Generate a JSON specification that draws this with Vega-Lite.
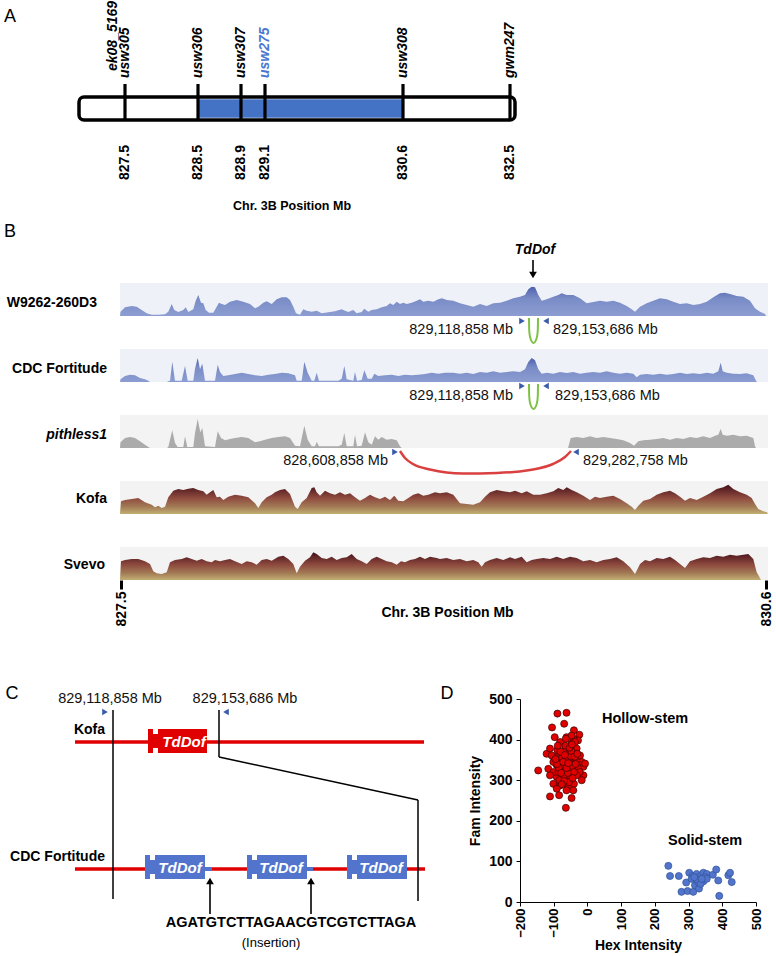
{
"$schema":"https://vega.github.io/schema/vega-lite/v6.json",
"background":"white",
"padding":0,
"config":{"view":{"stroke":null},"font":"Liberation Sans"},
"bounds":"flush",
"spacing":33,
"datasets":{
"loci":[
{"locus":"usw305","mapX":125,"mb":"827.5"},
{"locus":"usw306","mapX":198,"mb":"828.5"},
{"locus":"usw307","mapX":241,"mb":"828.9"},
{"locus":"usw275","mapX":265,"mb":"829.1"},
{"locus":"usw308","mapX":403,"mb":"830.6"},
{"locus":"gwm247","mapX":510,"mb":"832.5"}
],
"primerU":[
{"t":1,"o":1,"p":409,"d":-2},{"t":1,"o":2,"p":409.2,"d":-14},{"t":1,"o":3,"p":410.3,"d":-22},{"t":1,"o":4,"p":413.5,"d":-27},{"t":1,"o":5,"p":416.7,"d":-22},{"t":1,"o":6,"p":417.8,"d":-14},{"t":1,"o":7,"p":418,"d":-2},
{"t":2,"o":1,"p":409,"d":-2},{"t":2,"o":2,"p":409.2,"d":-14},{"t":2,"o":3,"p":410.3,"d":-22},{"t":2,"o":4,"p":413.5,"d":-27},{"t":2,"o":5,"p":416.7,"d":-22},{"t":2,"o":6,"p":417.8,"d":-14},{"t":2,"o":7,"p":418,"d":-2}
],
"deletionArc":[
{"o":1,"p":280,"d":-3},{"o":2,"p":285,"d":-10},{"o":3,"p":293,"d":-16},{"o":4,"p":310,"d":-21.5},{"o":5,"p":343,"d":-25.5},{"o":6,"p":377,"d":-25},{"o":7,"p":410,"d":-22},{"o":8,"p":433,"d":-16},{"o":9,"p":445,"d":-9},{"o":10,"p":451,"d":-3}
],
"coverage":[
{"t":1,"p":0,"d":0},{"t":1,"p":0.5,"d":4.3},{"t":1,"p":5,"d":8.7},{"t":1,"p":11.7,"d":10},{"t":1,"p":16.7,"d":9.3},{"t":1,"p":21.7,"d":6},{"t":1,"p":26.7,"d":2.7},{"t":1,"p":31.7,"d":1.3},{"t":1,"p":38.3,"d":1.3},{"t":1,"p":45,"d":1.7},{"t":1,"p":48.3,"d":4.3},{"t":1,"p":51.7,"d":12},{"t":1,"p":54.3,"d":6},{"t":1,"p":58.3,"d":4},{"t":1,"p":63.3,"d":6},{"t":1,"p":65.7,"d":8.7},{"t":1,"p":68.3,"d":4},{"t":1,"p":73.3,"d":6.7},{"t":1,"p":75.7,"d":15.3},{"t":1,"p":78.3,"d":21},{"t":1,"p":81,"d":13.3},{"t":1,"p":83.3,"d":12.7},{"t":1,"p":85.7,"d":6},{"t":1,"p":89,"d":3.3},{"t":1,"p":93.3,"d":3.3},{"t":1,"p":96.7,"d":9.3},{"t":1,"p":99,"d":13.3},{"t":1,"p":101.7,"d":12},{"t":1,"p":105,"d":11},{"t":1,"p":110,"d":14.3},{"t":1,"p":116.7,"d":16},{"t":1,"p":123.3,"d":14.3},{"t":1,"p":130,"d":12},{"t":1,"p":135,"d":7.7},{"t":1,"p":138.3,"d":9.3},{"t":1,"p":143.3,"d":13.3},{"t":1,"p":146.7,"d":14.7},{"t":1,"p":151.7,"d":12},{"t":1,"p":156.7,"d":16.7},{"t":1,"p":161.7,"d":18.7},{"t":1,"p":166.7,"d":18.7},{"t":1,"p":170,"d":16},{"t":1,"p":173.3,"d":9.3},{"t":1,"p":176,"d":2.7},{"t":1,"p":180,"d":1.3},{"t":1,"p":183.3,"d":6.7},{"t":1,"p":186.7,"d":5.3},{"t":1,"p":191.7,"d":4.3},{"t":1,"p":196.7,"d":5.3},{"t":1,"p":201.7,"d":2.7},{"t":1,"p":208.3,"d":3.7},{"t":1,"p":215,"d":4.7},{"t":1,"p":221.7,"d":6.7},{"t":1,"p":225,"d":5.3},{"t":1,"p":228.3,"d":4},{"t":1,"p":233.3,"d":6},{"t":1,"p":236.7,"d":2.7},{"t":1,"p":241.7,"d":4},{"t":1,"p":244.3,"d":7.3},{"t":1,"p":248.3,"d":4.3},{"t":1,"p":251.7,"d":6},{"t":1,"p":256.7,"d":6.7},{"t":1,"p":261.7,"d":8.7},{"t":1,"p":266.7,"d":10},{"t":1,"p":270,"d":12.7},{"t":1,"p":273.3,"d":11},{"t":1,"p":276.7,"d":14.3},{"t":1,"p":280,"d":12},{"t":1,"p":283.3,"d":13.3},{"t":1,"p":286.7,"d":12},{"t":1,"p":291.7,"d":13.3},{"t":1,"p":296.7,"d":15.3},{"t":1,"p":300,"d":16.7},{"t":1,"p":303.3,"d":14.3},{"t":1,"p":308.3,"d":15.3},{"t":1,"p":313.3,"d":14.3},{"t":1,"p":318.3,"d":16.7},{"t":1,"p":322,"d":17.7},{"t":1,"p":326.7,"d":16},{"t":1,"p":333.3,"d":15.3},{"t":1,"p":340,"d":12.7},{"t":1,"p":346.7,"d":11},{"t":1,"p":353.3,"d":9.3},{"t":1,"p":360,"d":12},{"t":1,"p":366.7,"d":10},{"t":1,"p":373.3,"d":12.7},{"t":1,"p":380,"d":13.3},{"t":1,"p":386.7,"d":15.3},{"t":1,"p":393.3,"d":17.7},{"t":1,"p":400,"d":19.3},{"t":1,"p":405,"d":21},{"t":1,"p":408.3,"d":26.7},{"t":1,"p":411.7,"d":29.3},{"t":1,"p":415,"d":28.7},{"t":1,"p":418.3,"d":21},{"t":1,"p":421.7,"d":15.3},{"t":1,"p":426.7,"d":16.7},{"t":1,"p":433.3,"d":19.3},{"t":1,"p":438.3,"d":21},{"t":1,"p":441.7,"d":22.7},{"t":1,"p":446.7,"d":21},{"t":1,"p":453.3,"d":21},{"t":1,"p":460,"d":17.7},{"t":1,"p":466.7,"d":12.7},{"t":1,"p":473.3,"d":14},{"t":1,"p":480,"d":15.3},{"t":1,"p":486.7,"d":14.3},{"t":1,"p":493.3,"d":15.3},{"t":1,"p":500,"d":13.3},{"t":1,"p":506.7,"d":10},{"t":1,"p":511.7,"d":6.7},{"t":1,"p":515,"d":4.3},{"t":1,"p":520,"d":9.3},{"t":1,"p":526.7,"d":12.7},{"t":1,"p":533.3,"d":15.3},{"t":1,"p":540,"d":17.7},{"t":1,"p":546.7,"d":16.7},{"t":1,"p":553.3,"d":14.3},{"t":1,"p":560,"d":12},{"t":1,"p":566.7,"d":12.7},{"t":1,"p":573.3,"d":11},{"t":1,"p":580,"d":12},{"t":1,"p":586.7,"d":14.3},{"t":1,"p":593.3,"d":18.7},{"t":1,"p":600,"d":22.7},{"t":1,"p":605,"d":23.3},{"t":1,"p":610,"d":22},{"t":1,"p":616.7,"d":20},{"t":1,"p":623.3,"d":19.3},{"t":1,"p":630,"d":15.3},{"t":1,"p":635,"d":7.7},{"t":1,"p":640,"d":4.3},{"t":1,"p":645,"d":2},{"t":1,"p":646,"d":0},
{"t":2,"p":0,"d":0},{"t":2,"p":0.5,"d":2.7},{"t":2,"p":5,"d":6},{"t":2,"p":10,"d":7.3},{"t":2,"p":15,"d":6.7},{"t":2,"p":20,"d":4},{"t":2,"p":25,"d":2.7},{"t":2,"p":28.3,"d":1.3},{"t":2,"p":30,"d":0},{"t":2,"p":47,"d":0},{"t":2,"p":48.3,"d":0.7},{"t":2,"p":50,"d":1.3},{"t":2,"p":52.3,"d":20},{"t":2,"p":55,"d":1.3},{"t":2,"p":61.7,"d":1.3},{"t":2,"p":65,"d":16},{"t":2,"p":67.7,"d":1.3},{"t":2,"p":73.3,"d":1.3},{"t":2,"p":75,"d":13.3},{"t":2,"p":77.7,"d":24},{"t":2,"p":80,"d":12.7},{"t":2,"p":82.3,"d":18.3},{"t":2,"p":85,"d":1.3},{"t":2,"p":95,"d":1.3},{"t":2,"p":97.7,"d":17.3},{"t":2,"p":100,"d":10},{"t":2,"p":103.3,"d":6},{"t":2,"p":108.3,"d":6.7},{"t":2,"p":115,"d":8},{"t":2,"p":121.7,"d":9.3},{"t":2,"p":128.3,"d":8},{"t":2,"p":135,"d":6.7},{"t":2,"p":141.7,"d":6},{"t":2,"p":148.3,"d":7.3},{"t":2,"p":155,"d":8},{"t":2,"p":161.7,"d":9.3},{"t":2,"p":168.3,"d":8.7},{"t":2,"p":175,"d":6.7},{"t":2,"p":176.7,"d":1.3},{"t":2,"p":181.7,"d":1.3},{"t":2,"p":184.3,"d":20},{"t":2,"p":187.7,"d":9.3},{"t":2,"p":191.7,"d":1.3},{"t":2,"p":194.3,"d":1.3},{"t":2,"p":196.7,"d":9.3},{"t":2,"p":199,"d":1.3},{"t":2,"p":218.3,"d":1.3},{"t":2,"p":221.7,"d":3.3},{"t":2,"p":224.3,"d":16},{"t":2,"p":226.7,"d":2.7},{"t":2,"p":233.3,"d":1.3},{"t":2,"p":235,"d":10},{"t":2,"p":237,"d":1.3},{"t":2,"p":241.7,"d":2},{"t":2,"p":244.3,"d":11.7},{"t":2,"p":247.7,"d":3.3},{"t":2,"p":251.7,"d":3.3},{"t":2,"p":254.3,"d":8.3},{"t":2,"p":258.3,"d":6},{"t":2,"p":265,"d":6.7},{"t":2,"p":271.7,"d":7.3},{"t":2,"p":278.3,"d":6},{"t":2,"p":285,"d":7.3},{"t":2,"p":291.7,"d":6.7},{"t":2,"p":298.3,"d":7.3},{"t":2,"p":305,"d":8},{"t":2,"p":311.7,"d":9.3},{"t":2,"p":318.3,"d":8.3},{"t":2,"p":325,"d":9.3},{"t":2,"p":333.3,"d":9.3},{"t":2,"p":340,"d":8.3},{"t":2,"p":346.7,"d":9.3},{"t":2,"p":353.3,"d":8},{"t":2,"p":360,"d":10},{"t":2,"p":366.7,"d":9.3},{"t":2,"p":373.3,"d":10.7},{"t":2,"p":380,"d":9.3},{"t":2,"p":386.7,"d":10},{"t":2,"p":393.3,"d":10.7},{"t":2,"p":400,"d":10},{"t":2,"p":405,"d":12.7},{"t":2,"p":408.3,"d":20},{"t":2,"p":411.7,"d":24},{"t":2,"p":415,"d":21.7},{"t":2,"p":418.3,"d":12.7},{"t":2,"p":421.7,"d":8.3},{"t":2,"p":426.7,"d":9.3},{"t":2,"p":433.3,"d":8.3},{"t":2,"p":440,"d":10},{"t":2,"p":446.7,"d":9},{"t":2,"p":453.3,"d":10},{"t":2,"p":460,"d":8.3},{"t":2,"p":466.7,"d":9.3},{"t":2,"p":473.3,"d":10},{"t":2,"p":480,"d":9.3},{"t":2,"p":486.7,"d":10.7},{"t":2,"p":493.3,"d":9.3},{"t":2,"p":500,"d":8.3},{"t":2,"p":506.7,"d":9.3},{"t":2,"p":513.3,"d":8.3},{"t":2,"p":516.7,"d":4.7},{"t":2,"p":520,"d":7.3},{"t":2,"p":526.7,"d":8},{"t":2,"p":533.3,"d":7.3},{"t":2,"p":540,"d":8.3},{"t":2,"p":546.7,"d":7.3},{"t":2,"p":553.3,"d":8},{"t":2,"p":560,"d":9.3},{"t":2,"p":566.7,"d":8},{"t":2,"p":573.3,"d":8.7},{"t":2,"p":580,"d":8},{"t":2,"p":586.7,"d":9.3},{"t":2,"p":593.3,"d":8.3},{"t":2,"p":598.3,"d":10.7},{"t":2,"p":600.7,"d":19.3},{"t":2,"p":602.7,"d":10.7},{"t":2,"p":606.7,"d":9.3},{"t":2,"p":613.3,"d":8.3},{"t":2,"p":620,"d":8},{"t":2,"p":626.7,"d":8.7},{"t":2,"p":633.3,"d":6.7},{"t":2,"p":636,"d":1.3},{"t":2,"p":637,"d":0},
{"t":3,"p":0,"d":0},{"t":3,"p":0.5,"d":5.7},{"t":3,"p":5,"d":10},{"t":3,"p":10,"d":11},{"t":3,"p":15,"d":10},{"t":3,"p":20,"d":6.7},{"t":3,"p":25,"d":3.3},{"t":3,"p":28.3,"d":1},{"t":3,"p":30,"d":0},{"t":3,"p":47,"d":0},{"t":3,"p":48.3,"d":1},{"t":3,"p":50,"d":8.3},{"t":3,"p":52.3,"d":17.7},{"t":3,"p":55,"d":5},{"t":3,"p":57.7,"d":1},{"t":3,"p":63.3,"d":1},{"t":3,"p":65,"d":11.7},{"t":3,"p":67.3,"d":1},{"t":3,"p":73.3,"d":1},{"t":3,"p":75,"d":15},{"t":3,"p":77.7,"d":29},{"t":3,"p":80.3,"d":15.7},{"t":3,"p":82.3,"d":20},{"t":3,"p":85,"d":1.7},{"t":3,"p":95,"d":1},{"t":3,"p":97.7,"d":16.7},{"t":3,"p":101,"d":10},{"t":3,"p":105,"d":7.7},{"t":3,"p":110,"d":9},{"t":3,"p":115,"d":10},{"t":3,"p":121.7,"d":11},{"t":3,"p":128.3,"d":10},{"t":3,"p":135,"d":5.7},{"t":3,"p":140,"d":6.7},{"t":3,"p":145,"d":8.3},{"t":3,"p":151.7,"d":10},{"t":3,"p":158.3,"d":11},{"t":3,"p":165,"d":11.7},{"t":3,"p":170,"d":10},{"t":3,"p":175,"d":2.3},{"t":3,"p":180,"d":1.7},{"t":3,"p":184.3,"d":22.3},{"t":3,"p":187.7,"d":8.3},{"t":3,"p":191.7,"d":1.7},{"t":3,"p":195,"d":1.7},{"t":3,"p":196.7,"d":6.3},{"t":3,"p":199,"d":1.7},{"t":3,"p":218.3,"d":1.7},{"t":3,"p":221.7,"d":3.3},{"t":3,"p":224.3,"d":15},{"t":3,"p":226.7,"d":1.7},{"t":3,"p":233.3,"d":1.7},{"t":3,"p":235,"d":13.3},{"t":3,"p":237,"d":1.7},{"t":3,"p":241.7,"d":2.3},{"t":3,"p":245,"d":15.7},{"t":3,"p":248.3,"d":5.7},{"t":3,"p":251.7,"d":3.3},{"t":3,"p":255,"d":11.7},{"t":3,"p":258.3,"d":8.3},{"t":3,"p":261.7,"d":11},{"t":3,"p":266.7,"d":8.3},{"t":3,"p":271.7,"d":9},{"t":3,"p":276.7,"d":7.7},{"t":3,"p":280,"d":1.7},{"t":3,"p":281.7,"d":0},{"t":3,"p":448,"d":0},{"t":3,"p":448.3,"d":1},{"t":3,"p":450.7,"d":10},{"t":3,"p":456.7,"d":11},{"t":3,"p":463.3,"d":10},{"t":3,"p":470,"d":11.7},{"t":3,"p":476.7,"d":10},{"t":3,"p":483.3,"d":11},{"t":3,"p":490,"d":10},{"t":3,"p":496.7,"d":9},{"t":3,"p":503.3,"d":7.7},{"t":3,"p":510,"d":5},{"t":3,"p":514,"d":2.3},{"t":3,"p":518.3,"d":6.7},{"t":3,"p":523.3,"d":7.7},{"t":3,"p":530,"d":8.3},{"t":3,"p":536.7,"d":9},{"t":3,"p":543.3,"d":10},{"t":3,"p":550,"d":8.3},{"t":3,"p":556.7,"d":10},{"t":3,"p":563.3,"d":9},{"t":3,"p":570,"d":11},{"t":3,"p":576.7,"d":10},{"t":3,"p":583.3,"d":11.7},{"t":3,"p":590,"d":10},{"t":3,"p":595,"d":12.3},{"t":3,"p":598.3,"d":13.3},{"t":3,"p":600.7,"d":19},{"t":3,"p":602.7,"d":13.3},{"t":3,"p":606.7,"d":12.3},{"t":3,"p":613.3,"d":13.3},{"t":3,"p":620,"d":11.7},{"t":3,"p":626.7,"d":12.3},{"t":3,"p":633.3,"d":10},{"t":3,"p":635,"d":1.7},{"t":3,"p":636,"d":0},
{"t":4,"p":0,"d":0},{"t":4,"p":1,"d":12.7},{"t":4,"p":5,"d":14},{"t":4,"p":11.7,"d":15},{"t":4,"p":18.3,"d":16},{"t":4,"p":25,"d":11.7},{"t":4,"p":31.7,"d":9.3},{"t":4,"p":35,"d":6.7},{"t":4,"p":38.3,"d":8.3},{"t":4,"p":41.7,"d":6},{"t":4,"p":45,"d":7.3},{"t":4,"p":48.3,"d":16.7},{"t":4,"p":53.3,"d":23.3},{"t":4,"p":58.3,"d":25},{"t":4,"p":63.3,"d":24},{"t":4,"p":68.3,"d":25.3},{"t":4,"p":73.3,"d":26},{"t":4,"p":78.3,"d":24},{"t":4,"p":83.3,"d":22.7},{"t":4,"p":86.7,"d":19.3},{"t":4,"p":90,"d":21.7},{"t":4,"p":93.3,"d":24},{"t":4,"p":96.7,"d":16.7},{"t":4,"p":100,"d":17.3},{"t":4,"p":103.3,"d":14},{"t":4,"p":108.3,"d":17.3},{"t":4,"p":115,"d":19.3},{"t":4,"p":121.7,"d":18.3},{"t":4,"p":128.3,"d":16.7},{"t":4,"p":135,"d":10.7},{"t":4,"p":138.3,"d":6},{"t":4,"p":141.7,"d":11.7},{"t":4,"p":146.7,"d":16.7},{"t":4,"p":151.7,"d":19.3},{"t":4,"p":155,"d":21.7},{"t":4,"p":160,"d":24},{"t":4,"p":165,"d":25},{"t":4,"p":170,"d":20},{"t":4,"p":175,"d":7.3},{"t":4,"p":177.7,"d":5},{"t":4,"p":181.7,"d":11.7},{"t":4,"p":186.7,"d":16},{"t":4,"p":191.7,"d":26},{"t":4,"p":194.3,"d":26.7},{"t":4,"p":196.7,"d":21.7},{"t":4,"p":200,"d":18.3},{"t":4,"p":205,"d":23.3},{"t":4,"p":210,"d":20.7},{"t":4,"p":215,"d":19.3},{"t":4,"p":220,"d":21.7},{"t":4,"p":225,"d":19.3},{"t":4,"p":230,"d":20.7},{"t":4,"p":235,"d":16.7},{"t":4,"p":240,"d":13.3},{"t":4,"p":245,"d":16},{"t":4,"p":250,"d":19.3},{"t":4,"p":255,"d":16.7},{"t":4,"p":260,"d":15},{"t":4,"p":265,"d":17.3},{"t":4,"p":270,"d":14},{"t":4,"p":274.3,"d":18.3},{"t":4,"p":278.3,"d":13.3},{"t":4,"p":283.3,"d":12.7},{"t":4,"p":288.3,"d":16},{"t":4,"p":293.3,"d":19.3},{"t":4,"p":298.3,"d":20.7},{"t":4,"p":303.3,"d":18.3},{"t":4,"p":308.3,"d":19.3},{"t":4,"p":315,"d":21.7},{"t":4,"p":320,"d":20.7},{"t":4,"p":326.7,"d":21.7},{"t":4,"p":333.3,"d":19.3},{"t":4,"p":340,"d":10.7},{"t":4,"p":346.7,"d":10},{"t":4,"p":353.3,"d":9.3},{"t":4,"p":360,"d":11.7},{"t":4,"p":365,"d":17.3},{"t":4,"p":370,"d":21.7},{"t":4,"p":376.7,"d":24},{"t":4,"p":383.3,"d":22.7},{"t":4,"p":390,"d":21.7},{"t":4,"p":395,"d":23.3},{"t":4,"p":401.7,"d":20.7},{"t":4,"p":406.7,"d":22.7},{"t":4,"p":413.3,"d":19.3},{"t":4,"p":420,"d":19.3},{"t":4,"p":426.7,"d":20.7},{"t":4,"p":433.3,"d":22.7},{"t":4,"p":438.3,"d":26},{"t":4,"p":443.3,"d":24},{"t":4,"p":446.7,"d":26.7},{"t":4,"p":451.7,"d":24},{"t":4,"p":456.7,"d":21.7},{"t":4,"p":463.3,"d":18.3},{"t":4,"p":470,"d":14},{"t":4,"p":475,"d":17.3},{"t":4,"p":480,"d":16},{"t":4,"p":486.7,"d":17.3},{"t":4,"p":493.3,"d":18.3},{"t":4,"p":500,"d":15},{"t":4,"p":506.7,"d":10.7},{"t":4,"p":511.7,"d":7.3},{"t":4,"p":515,"d":4},{"t":4,"p":518.3,"d":8.3},{"t":4,"p":523.3,"d":13.3},{"t":4,"p":530,"d":15},{"t":4,"p":536.7,"d":19.3},{"t":4,"p":543.3,"d":21.7},{"t":4,"p":550,"d":23.3},{"t":4,"p":555,"d":20.7},{"t":4,"p":560,"d":17.3},{"t":4,"p":565,"d":13.3},{"t":4,"p":570,"d":16},{"t":4,"p":576.7,"d":14},{"t":4,"p":583.3,"d":17.3},{"t":4,"p":590,"d":20.7},{"t":4,"p":596.7,"d":25},{"t":4,"p":603.3,"d":26.7},{"t":4,"p":608.3,"d":29.3},{"t":4,"p":613.3,"d":25},{"t":4,"p":620,"d":21.7},{"t":4,"p":626.7,"d":19.3},{"t":4,"p":631.7,"d":16},{"t":4,"p":635,"d":10},{"t":4,"p":638.3,"d":5},{"t":4,"p":643.3,"d":2.7},{"t":4,"p":647,"d":1.7},{"t":4,"p":648,"d":0},
{"t":5,"p":0,"d":0},{"t":5,"p":1,"d":18.7},{"t":5,"p":5,"d":20},{"t":5,"p":11.7,"d":21},{"t":5,"p":18.3,"d":21},{"t":5,"p":25,"d":18.7},{"t":5,"p":30,"d":16},{"t":5,"p":33.3,"d":8.7},{"t":5,"p":36.7,"d":6.7},{"t":5,"p":41.7,"d":6},{"t":5,"p":46.7,"d":7.7},{"t":5,"p":50,"d":17.7},{"t":5,"p":55,"d":20},{"t":5,"p":61.7,"d":21},{"t":5,"p":66.7,"d":22.7},{"t":5,"p":71.7,"d":21},{"t":5,"p":76.7,"d":19.3},{"t":5,"p":81.7,"d":21},{"t":5,"p":86.7,"d":18.7},{"t":5,"p":91.7,"d":17.7},{"t":5,"p":95,"d":20},{"t":5,"p":100,"d":18.7},{"t":5,"p":105,"d":20},{"t":5,"p":110,"d":21},{"t":5,"p":115,"d":18.7},{"t":5,"p":121.7,"d":16},{"t":5,"p":126.7,"d":18.7},{"t":5,"p":131.7,"d":17.7},{"t":5,"p":136.7,"d":15.3},{"t":5,"p":141.7,"d":20},{"t":5,"p":146.7,"d":21},{"t":5,"p":151.7,"d":19.3},{"t":5,"p":158.3,"d":23.3},{"t":5,"p":163.3,"d":24.3},{"t":5,"p":168.3,"d":21},{"t":5,"p":173.3,"d":16},{"t":5,"p":176.7,"d":6.7},{"t":5,"p":180,"d":13.3},{"t":5,"p":185,"d":19.3},{"t":5,"p":190,"d":22.7},{"t":5,"p":193.3,"d":27.7},{"t":5,"p":196.7,"d":26},{"t":5,"p":201.7,"d":22},{"t":5,"p":206.7,"d":21},{"t":5,"p":211.7,"d":23.3},{"t":5,"p":216.7,"d":20},{"t":5,"p":221.7,"d":22},{"t":5,"p":226.7,"d":22.7},{"t":5,"p":231.7,"d":26},{"t":5,"p":236.7,"d":21},{"t":5,"p":241.7,"d":18.7},{"t":5,"p":246.7,"d":16},{"t":5,"p":251.7,"d":21},{"t":5,"p":256.7,"d":23.3},{"t":5,"p":261.7,"d":21},{"t":5,"p":266.7,"d":18.7},{"t":5,"p":271.7,"d":17.7},{"t":5,"p":276.7,"d":15.3},{"t":5,"p":281,"d":18.7},{"t":5,"p":285,"d":17.7},{"t":5,"p":290,"d":20},{"t":5,"p":295,"d":21},{"t":5,"p":300,"d":23.3},{"t":5,"p":305,"d":21},{"t":5,"p":310,"d":23.3},{"t":5,"p":316.7,"d":22},{"t":5,"p":320,"d":21},{"t":5,"p":326.7,"d":22},{"t":5,"p":333.3,"d":20},{"t":5,"p":340,"d":21},{"t":5,"p":346.7,"d":18.7},{"t":5,"p":353.3,"d":20},{"t":5,"p":358.3,"d":17.7},{"t":5,"p":361.7,"d":13.3},{"t":5,"p":365,"d":17.7},{"t":5,"p":370,"d":20},{"t":5,"p":376.7,"d":22},{"t":5,"p":383.3,"d":20},{"t":5,"p":390,"d":22.7},{"t":5,"p":395,"d":21},{"t":5,"p":401.7,"d":23.3},{"t":5,"p":406.7,"d":17.7},{"t":5,"p":411.7,"d":20},{"t":5,"p":416.7,"d":21},{"t":5,"p":423.3,"d":22},{"t":5,"p":430,"d":21},{"t":5,"p":436.7,"d":23.3},{"t":5,"p":443.3,"d":21},{"t":5,"p":450,"d":23.3},{"t":5,"p":456.7,"d":22},{"t":5,"p":463.3,"d":18.7},{"t":5,"p":470,"d":20},{"t":5,"p":476.7,"d":17.7},{"t":5,"p":483.3,"d":20},{"t":5,"p":490,"d":21},{"t":5,"p":496.7,"d":22.7},{"t":5,"p":503.3,"d":18.7},{"t":5,"p":510,"d":12.7},{"t":5,"p":515,"d":6},{"t":5,"p":520,"d":16},{"t":5,"p":525,"d":20},{"t":5,"p":530,"d":18.7},{"t":5,"p":536.7,"d":22},{"t":5,"p":543.3,"d":21},{"t":5,"p":550,"d":23.3},{"t":5,"p":555,"d":20},{"t":5,"p":560,"d":16},{"t":5,"p":565,"d":12},{"t":5,"p":570,"d":18.7},{"t":5,"p":576.7,"d":21},{"t":5,"p":583.3,"d":22.7},{"t":5,"p":590,"d":22},{"t":5,"p":596.7,"d":24.3},{"t":5,"p":603.3,"d":23.3},{"t":5,"p":610,"d":25.3},{"t":5,"p":616.7,"d":24.3},{"t":5,"p":623.3,"d":25.3},{"t":5,"p":628.3,"d":26},{"t":5,"p":633.3,"d":21},{"t":5,"p":636.7,"d":7.7},{"t":5,"p":640,"d":2},{"t":5,"p":641,"d":0}
],
"genes":[
{"genome":"Kofa","x0":158,"x1":207,"y0":727,"y1":751},
{"genome":"Kofa","x0":148,"x1":153,"y0":727,"y1":751},
{"genome":"Kofa","x0":152,"x1":159,"y0":732,"y1":746},
{"genome":"CDC Fortitude","x0":155,"x1":205,"y0":853,"y1":877},
{"genome":"CDC Fortitude","x0":145,"x1":150,"y0":853,"y1":877},
{"genome":"CDC Fortitude","x0":149,"x1":156,"y0":858,"y1":872},
{"genome":"CDC Fortitude","x0":257,"x1":307,"y0":853,"y1":877},
{"genome":"CDC Fortitude","x0":247,"x1":252,"y0":853,"y1":877},
{"genome":"CDC Fortitude","x0":251,"x1":258,"y0":858,"y1":872},
{"genome":"CDC Fortitude","x0":357,"x1":407,"y0":853,"y1":877},
{"genome":"CDC Fortitude","x0":347,"x1":352,"y0":853,"y1":877},
{"genome":"CDC Fortitude","x0":351,"x1":358,"y0":858,"y1":872},
{"genome":"CDC Fortitude","x0":205,"x1":212,"y0":865,"y1":869},
{"genome":"CDC Fortitude","x0":307,"x1":313,"y0":865,"y1":869}
],
"geneLabels":[
{"gene":"TdDof","x":184,"y":740},
{"gene":"TdDof","x":180,"y":866},
{"gene":"TdDof","x":281,"y":866},
{"gene":"TdDof","x":381,"y":866}
],
"backbones":[
{"genome":"Kofa","start":75,"end":424,"lane":740},
{"genome":"CDC Fortitude","start":75,"end":425,"lane":867}
],
"insertions":[{"site":1,"x":210},{"site":2,"x":311}],
"kasp":[
{"group":"Hollow-stem","hex":-89,"fam":464},{"group":"Hollow-stem","hex":-62,"fam":466},{"group":"Hollow-stem","hex":-69,"fam":439},{"group":"Hollow-stem","hex":-105,"fam":430},{"group":"Hollow-stem","hex":-40,"fam":423},{"group":"Hollow-stem","hex":-24,"fam":412},{"group":"Hollow-stem","hex":-62,"fam":406},{"group":"Hollow-stem","hex":-97,"fam":406},{"group":"Hollow-stem","hex":-28,"fam":398},{"group":"Hollow-stem","hex":-42,"fam":402},{"group":"Hollow-stem","hex":-121,"fam":365},{"group":"Hollow-stem","hex":-111,"fam":378},{"group":"Hollow-stem","hex":-89,"fam":374},{"group":"Hollow-stem","hex":-66,"fam":382},{"group":"Hollow-stem","hex":-32,"fam":378},{"group":"Hollow-stem","hex":-47,"fam":390},{"group":"Hollow-stem","hex":-96,"fam":357},{"group":"Hollow-stem","hex":-81,"fam":349},{"group":"Hollow-stem","hex":-57,"fam":361},{"group":"Hollow-stem","hex":-37,"fam":353},{"group":"Hollow-stem","hex":-17,"fam":345},{"group":"Hollow-stem","hex":-12,"fam":333},{"group":"Hollow-stem","hex":-146,"fam":324},{"group":"Hollow-stem","hex":-116,"fam":328},{"group":"Hollow-stem","hex":-91,"fam":337},{"group":"Hollow-stem","hex":-71,"fam":320},{"group":"Hollow-stem","hex":-52,"fam":324},{"group":"Hollow-stem","hex":-27,"fam":328},{"group":"Hollow-stem","hex":-12,"fam":312},{"group":"Hollow-stem","hex":-91,"fam":308},{"group":"Hollow-stem","hex":-71,"fam":300},{"group":"Hollow-stem","hex":-52,"fam":304},{"group":"Hollow-stem","hex":-101,"fam":291},{"group":"Hollow-stem","hex":-81,"fam":287},{"group":"Hollow-stem","hex":-57,"fam":283},{"group":"Hollow-stem","hex":-91,"fam":279},{"group":"Hollow-stem","hex":-62,"fam":275},{"group":"Hollow-stem","hex":-111,"fam":260},{"group":"Hollow-stem","hex":-84,"fam":263},{"group":"Hollow-stem","hex":-47,"fam":256},{"group":"Hollow-stem","hex":-64,"fam":232},{"group":"Hollow-stem","hex":-40,"fam":291},{"group":"Hollow-stem","hex":-23,"fam":320},{"group":"Hollow-stem","hex":-101,"fam":320},{"group":"Hollow-stem","hex":-111,"fam":312},{"group":"Hollow-stem","hex":-76,"fam":366},{"group":"Hollow-stem","hex":-42,"fam":366},{"group":"Hollow-stem","hex":-66,"fam":345},{"group":"Hollow-stem","hex":-52,"fam":341},{"group":"Hollow-stem","hex":-32,"fam":312},{"group":"Hollow-stem","hex":-47,"fam":410},{"group":"Hollow-stem","hex":-37,"fam":394},{"group":"Hollow-stem","hex":-81,"fam":394},{"group":"Hollow-stem","hex":-62,"fam":374},{"group":"Hollow-stem","hex":-22,"fam":361},{"group":"Hollow-stem","hex":-7,"fam":341},{"group":"Hollow-stem","hex":-76,"fam":337},{"group":"Hollow-stem","hex":-101,"fam":345},{"group":"Hollow-stem","hex":-86,"fam":320},{"group":"Hollow-stem","hex":-57,"fam":312},{"group":"Hollow-stem","hex":-66,"fam":296},{"group":"Hollow-stem","hex":-42,"fam":275},{"group":"Hollow-stem","hex":-106,"fam":361},{"group":"Hollow-stem","hex":-52,"fam":374},{"group":"Hollow-stem","hex":-32,"fam":345},{"group":"Hollow-stem","hex":-17,"fam":300},
{"group":"Hollow-stem","hex":-75,"fam":355},{"group":"Hollow-stem","hex":-60,"fam":350},{"group":"Hollow-stem","hex":-45,"fam":335},{"group":"Hollow-stem","hex":-85,"fam":330},{"group":"Hollow-stem","hex":-70,"fam":310},{"group":"Hollow-stem","hex":-55,"fam":295},{"group":"Hollow-stem","hex":-40,"fam":320},{"group":"Hollow-stem","hex":-65,"fam":385},{"group":"Hollow-stem","hex":-50,"fam":360},{"group":"Hollow-stem","hex":-80,"fam":370},{"group":"Hollow-stem","hex":-35,"fam":340},{"group":"Hollow-stem","hex":-90,"fam":340},{"group":"Hollow-stem","hex":-58,"fam":318},{"group":"Hollow-stem","hex":-72,"fam":345},{"group":"Hollow-stem","hex":-48,"fam":372},{"group":"Hollow-stem","hex":-62,"fam":330},{"group":"Hollow-stem","hex":-83,"fam":300},{"group":"Hollow-stem","hex":-44,"fam":305},{"group":"Hollow-stem","hex":-67,"fam":362},{"group":"Hollow-stem","hex":-53,"fam":380},{"group":"Hollow-stem","hex":-78,"fam":318},{"group":"Hollow-stem","hex":-38,"fam":358},{"group":"Hollow-stem","hex":-95,"fam":352},{"group":"Hollow-stem","hex":-57,"fam":342},{"group":"Hollow-stem","hex":-69,"fam":298},{"group":"Hollow-stem","hex":-46,"fam":388},{"group":"Hollow-stem","hex":-88,"fam":385},{"group":"Hollow-stem","hex":-30,"fam":365},{"group":"Hollow-stem","hex":-64,"fam":402},{"group":"Hollow-stem","hex":-76,"fam":290},
{"group":"Solid-stem","hex":240,"fam":89},{"group":"Solid-stem","hex":245,"fam":64},{"group":"Solid-stem","hex":271,"fam":64},{"group":"Solid-stem","hex":279,"fam":25},{"group":"Solid-stem","hex":297,"fam":27},{"group":"Solid-stem","hex":302,"fam":72},{"group":"Solid-stem","hex":293,"fam":48},{"group":"Solid-stem","hex":314,"fam":25},{"group":"Solid-stem","hex":312,"fam":64},{"group":"Solid-stem","hex":324,"fam":69},{"group":"Solid-stem","hex":336,"fam":64},{"group":"Solid-stem","hex":344,"fam":72},{"group":"Solid-stem","hex":354,"fam":69},{"group":"Solid-stem","hex":372,"fam":67},{"group":"Solid-stem","hex":382,"fam":80},{"group":"Solid-stem","hex":391,"fam":15},{"group":"Solid-stem","hex":388,"fam":53},{"group":"Solid-stem","hex":418,"fam":66},{"group":"Solid-stem","hex":423,"fam":72},{"group":"Solid-stem","hex":428,"fam":49},{"group":"Solid-stem","hex":319,"fam":41},{"group":"Solid-stem","hex":331,"fam":33},{"group":"Solid-stem","hex":329,"fam":49},{"group":"Solid-stem","hex":344,"fam":51},{"group":"Solid-stem","hex":309,"fam":57},{"group":"Solid-stem","hex":349,"fam":61},{"group":"Solid-stem","hex":324,"fam":56},{"group":"Solid-stem","hex":336,"fam":45},{"group":"Solid-stem","hex":354,"fam":57},{"group":"Solid-stem","hex":317,"fam":61},{"group":"Solid-stem","hex":339,"fam":57}
]
},
"vconcat":[
{
"width":776,"height":248,
"layer":[
{"data":{"values":[{}]},"mark":{"type":"rect","fill":"white","stroke":"black","strokeWidth":3.5,"cornerRadius":5},
 "encoding":{"x":{"datum":79,"type":"quantitative","scale":{"domain":[0,776]},"axis":null},"x2":{"datum":515},
 "y":{"datum":95,"type":"quantitative","scale":{"domain":[0,248],"reverse":true},"axis":null},"y2":{"datum":118}}},
{"data":{"values":[{"interval":"usw306-usw308","start":199,"end":403}]},"mark":{"type":"rect","fill":"#4472C4"},
 "encoding":{"x":{"field":"start","type":"quantitative","scale":{"domain":[0,776]},"axis":null},"x2":{"field":"end"},
 "y":{"datum":97.2,"type":"quantitative","scale":{"domain":[0,248],"reverse":true},"axis":null},"y2":{"datum":115.8}}},
{"data":{"name":"loci"},"mark":{"type":"rule","color":"black","strokeWidth":3.2},
 "encoding":{"x":{"field":"mapX","type":"quantitative","scale":{"domain":[0,776]},"axis":null},
 "y":{"datum":82,"type":"quantitative","scale":{"domain":[0,248],"reverse":true},"axis":null},"y2":{"datum":117}}},
{"data":{"name":"loci"},"mark":{"type":"text","angle":270,"align":"left","baseline":"middle","fontSize":14,"fontWeight":"bold","fontStyle":"italic"},
 "encoding":{"x":{"field":"mapX","type":"quantitative","scale":{"domain":[0,776]},"axis":null},
 "y":{"datum":76,"type":"quantitative","scale":{"domain":[0,248],"reverse":true},"axis":null},
 "text":{"field":"locus"},
 "color":{"condition":{"test":"datum.locus === 'usw275'","value":"#4A78D0"},"value":"black"}}},
{"data":{"values":[{"locus":"ek08_5169"}]},"mark":{"type":"text","angle":270,"align":"left","baseline":"middle","fontSize":14,"fontWeight":"bold","fontStyle":"italic","color":"black"},
 "encoding":{"x":{"datum":113,"type":"quantitative","scale":{"domain":[0,776]},"axis":null},
 "y":{"datum":69,"type":"quantitative","scale":{"domain":[0,248],"reverse":true},"axis":null},
 "text":{"field":"locus"}}},
{"data":{"name":"loci"},"mark":{"type":"text","angle":270,"align":"left","baseline":"middle","fontSize":14,"fontWeight":"bold","color":"black"},
 "encoding":{"x":{"field":"mapX","type":"quantitative","scale":{"domain":[0,776]},"axis":null},
 "y":{"datum":178,"type":"quantitative","scale":{"domain":[0,248],"reverse":true},"axis":null},
 "text":{"field":"mb"}}},
{"data":{"values":[{"title":"Chr. 3B Position Mb"}]},"mark":{"type":"text","fontSize":12.5,"fontWeight":"bold","color":"black"},
 "encoding":{"x":{"datum":292,"type":"quantitative","scale":{"domain":[0,776]},"axis":null},
 "y":{"datum":204,"type":"quantitative","scale":{"domain":[0,248],"reverse":true},"axis":null},
 "text":{"field":"title"}}},
{"data":{"values":[{"panel":"A"}]},"mark":{"type":"text","fontSize":18,"color":"black"},
 "encoding":{"x":{"datum":10,"type":"quantitative","scale":{"domain":[0,776]},"axis":null},
 "y":{"datum":15,"type":"quantitative","scale":{"domain":[0,248],"reverse":true},"axis":null},"text":{"field":"panel"}}},
{"data":{"values":[{"panel":"B"}]},"mark":{"type":"text","fontSize":18,"color":"black"},
 "encoding":{"x":{"datum":10,"type":"quantitative","scale":{"domain":[0,776]},"axis":null},
 "y":{"datum":230,"type":"quantitative","scale":{"domain":[0,248],"reverse":true},"axis":null},"text":{"field":"panel"}}},
{"data":{"values":[{"gene":"TdDof"}]},"mark":{"type":"text","fontSize":14,"fontWeight":"bold","fontStyle":"italic","color":"black"},
 "encoding":{"x":{"datum":535,"type":"quantitative","scale":{"domain":[0,776]},"axis":null},
 "y":{"datum":248,"type":"quantitative","scale":{"domain":[0,248],"reverse":true},"axis":null},"text":{"field":"gene"}}},
{"data":{"values":[{}]},"mark":{"type":"rule","color":"black","strokeWidth":1.6},
 "encoding":{"x":{"datum":533,"type":"quantitative","scale":{"domain":[0,776]},"axis":null},
 "y":{"datum":258,"type":"quantitative","scale":{"domain":[0,248],"reverse":true},"axis":null},"y2":{"datum":270}}},
{"data":{"values":[{}]},"mark":{"type":"point","shape":"triangle-down","filled":true,"color":"black","size":60,"opacity":1},
 "encoding":{"x":{"datum":533,"type":"quantitative","scale":{"domain":[0,776]},"axis":null},
 "y":{"datum":273,"type":"quantitative","scale":{"domain":[0,248],"reverse":true},"axis":null}}}
]
},
{"width":776,"height":33,"layer":[
{"data":{"values":[{}]},"mark":{"type":"rect","fill":"#EEF1F8"},
 "encoding":{"x":{"datum":0,"type":"quantitative","scale":{"domain":[-120,656]},"axis":null},"x2":{"datum":648},
 "y":{"datum":0,"type":"quantitative","scale":{"domain":[0,33]},"axis":null},"y2":{"datum":33}}},
{"data":{"name":"coverage"},"transform":[{"filter":"datum.t === 1"}],
 "mark":{"type":"area","fill":{"gradient":"linear","x1":0,"y1":1,"x2":0,"y2":0,"stops":[{"offset":0,"color":"#8C9DD2"},{"offset":0.6,"color":"#7A8CC6"},{"offset":1,"color":"#4F61AC"}]}},
 "encoding":{"x":{"field":"p","type":"quantitative","scale":{"domain":[-120,656]},"axis":null},
 "y":{"field":"d","type":"quantitative","scale":{"domain":[0,33]},"axis":null}}},
{"data":{"values":[{"sample":"W9262-260D3"}]},"mark":{"type":"text","align":"right","fontSize":14,"fontWeight":"bold","color":"black"},
 "encoding":{"x":{"datum":-23,"type":"quantitative","scale":{"domain":[-120,656]},"axis":null},
 "y":{"datum":13,"type":"quantitative","scale":{"domain":[0,33]},"axis":null},"text":{"field":"sample"}}},
{"data":{"values":[{"coord":"829,118,858 Mb"}]},"mark":{"type":"text","align":"right","fontSize":14.5,"color":"#111111"},
 "encoding":{"x":{"datum":393,"type":"quantitative","scale":{"domain":[-120,656]},"axis":null},
 "y":{"datum":-14,"type":"quantitative","scale":{"domain":[0,33]},"axis":null},"text":{"field":"coord"}}},
{"data":{"values":[{"coord":"829,153,686 Mb"}]},"mark":{"type":"text","align":"left","fontSize":14.5,"color":"#111111"},
 "encoding":{"x":{"datum":433,"type":"quantitative","scale":{"domain":[-120,656]},"axis":null},
 "y":{"datum":-14,"type":"quantitative","scale":{"domain":[0,33]},"axis":null},"text":{"field":"coord"}}},
{"data":{"values":[{}]},"mark":{"type":"point","shape":"triangle-right","filled":true,"color":"#3A5BAA","size":42,"opacity":1},
 "encoding":{"x":{"datum":402,"type":"quantitative","scale":{"domain":[-120,656]},"axis":null},
 "y":{"datum":-5,"type":"quantitative","scale":{"domain":[0,33]},"axis":null}}},
{"data":{"values":[{}]},"mark":{"type":"point","shape":"triangle-left","filled":true,"color":"#3A5BAA","size":42,"opacity":1},
 "encoding":{"x":{"datum":426,"type":"quantitative","scale":{"domain":[-120,656]},"axis":null},
 "y":{"datum":-5,"type":"quantitative","scale":{"domain":[0,33]},"axis":null}}},
{"data":{"name":"primerU"},"transform":[{"filter":"datum.t === 1"}],"mark":{"type":"line","color":"#7DC243","strokeWidth":2,"interpolate":"monotone"},
 "encoding":{"x":{"field":"p","type":"quantitative","scale":{"domain":[-120,656]},"axis":null},
 "y":{"field":"d","type":"quantitative","scale":{"domain":[0,33]},"axis":null},"order":{"field":"o","type":"quantitative"}}}
]},
{"width":776,"height":33,"layer":[
{"data":{"values":[{}]},"mark":{"type":"rect","fill":"#EEF1F8"},
 "encoding":{"x":{"datum":0,"type":"quantitative","scale":{"domain":[-120,656]},"axis":null},"x2":{"datum":648},
 "y":{"datum":0,"type":"quantitative","scale":{"domain":[0,33]},"axis":null},"y2":{"datum":33}}},
{"data":{"name":"coverage"},"transform":[{"filter":"datum.t === 2"}],
 "mark":{"type":"area","fill":{"gradient":"linear","x1":0,"y1":1,"x2":0,"y2":0,"stops":[{"offset":0,"color":"#8C9DD2"},{"offset":0.6,"color":"#7A8CC6"},{"offset":1,"color":"#4F61AC"}]}},
 "encoding":{"x":{"field":"p","type":"quantitative","scale":{"domain":[-120,656]},"axis":null},
 "y":{"field":"d","type":"quantitative","scale":{"domain":[0,33]},"axis":null}}},
{"data":{"values":[{"sample":"CDC Fortitude"}]},"mark":{"type":"text","align":"right","fontSize":14,"fontWeight":"bold","color":"black"},
 "encoding":{"x":{"datum":-13,"type":"quantitative","scale":{"domain":[-120,656]},"axis":null},
 "y":{"datum":13,"type":"quantitative","scale":{"domain":[0,33]},"axis":null},"text":{"field":"sample"}}},
{"data":{"values":[{"coord":"829,118,858 Mb"}]},"mark":{"type":"text","align":"right","fontSize":14.5,"color":"#111111"},
 "encoding":{"x":{"datum":393,"type":"quantitative","scale":{"domain":[-120,656]},"axis":null},
 "y":{"datum":-14,"type":"quantitative","scale":{"domain":[0,33]},"axis":null},"text":{"field":"coord"}}},
{"data":{"values":[{"coord":"829,153,686 Mb"}]},"mark":{"type":"text","align":"left","fontSize":14.5,"color":"#111111"},
 "encoding":{"x":{"datum":435,"type":"quantitative","scale":{"domain":[-120,656]},"axis":null},
 "y":{"datum":-14,"type":"quantitative","scale":{"domain":[0,33]},"axis":null},"text":{"field":"coord"}}},
{"data":{"values":[{}]},"mark":{"type":"point","shape":"triangle-right","filled":true,"color":"#3A5BAA","size":42,"opacity":1},
 "encoding":{"x":{"datum":402,"type":"quantitative","scale":{"domain":[-120,656]},"axis":null},
 "y":{"datum":-4,"type":"quantitative","scale":{"domain":[0,33]},"axis":null}}},
{"data":{"values":[{}]},"mark":{"type":"point","shape":"triangle-left","filled":true,"color":"#3A5BAA","size":42,"opacity":1},
 "encoding":{"x":{"datum":426,"type":"quantitative","scale":{"domain":[-120,656]},"axis":null},
 "y":{"datum":-4,"type":"quantitative","scale":{"domain":[0,33]},"axis":null}}},
{"data":{"name":"primerU"},"transform":[{"filter":"datum.t === 2"}],"mark":{"type":"line","color":"#7DC243","strokeWidth":2,"interpolate":"monotone"},
 "encoding":{"x":{"field":"p","type":"quantitative","scale":{"domain":[-120,656]},"axis":null},
 "y":{"field":"d","type":"quantitative","scale":{"domain":[0,33]},"axis":null},"order":{"field":"o","type":"quantitative"}}}
]},
{"width":776,"height":33,"layer":[
{"data":{"values":[{}]},"mark":{"type":"rect","fill":"#F3F3F3"},
 "encoding":{"x":{"datum":0,"type":"quantitative","scale":{"domain":[-120,656]},"axis":null},"x2":{"datum":648},
 "y":{"datum":0,"type":"quantitative","scale":{"domain":[0,33]},"axis":null},"y2":{"datum":33}}},
{"data":{"name":"coverage"},"transform":[{"filter":"datum.t === 3"}],
 "mark":{"type":"area","fill":"#ABABAB"},
 "encoding":{"x":{"field":"p","type":"quantitative","scale":{"domain":[-120,656]},"axis":null},
 "y":{"field":"d","type":"quantitative","scale":{"domain":[0,33]},"axis":null}}},
{"data":{"values":[{"sample":"pithless1"}]},"mark":{"type":"text","align":"right","fontSize":14,"fontWeight":"bold","fontStyle":"italic","color":"black"},
 "encoding":{"x":{"datum":-13,"type":"quantitative","scale":{"domain":[-120,656]},"axis":null},
 "y":{"datum":13,"type":"quantitative","scale":{"domain":[0,33]},"axis":null},"text":{"field":"sample"}}},
{"data":{"values":[{"coord":"828,608,858 Mb"}]},"mark":{"type":"text","align":"right","fontSize":14.5,"color":"#111111"},
 "encoding":{"x":{"datum":268,"type":"quantitative","scale":{"domain":[-120,656]},"axis":null},
 "y":{"datum":-13,"type":"quantitative","scale":{"domain":[0,33]},"axis":null},"text":{"field":"coord"}}},
{"data":{"values":[{"coord":"829,282,758 Mb"}]},"mark":{"type":"text","align":"left","fontSize":14.5,"color":"#111111"},
 "encoding":{"x":{"datum":463,"type":"quantitative","scale":{"domain":[-120,656]},"axis":null},
 "y":{"datum":-13,"type":"quantitative","scale":{"domain":[0,33]},"axis":null},"text":{"field":"coord"}}},
{"data":{"values":[{}]},"mark":{"type":"point","shape":"triangle-right","filled":true,"color":"#3A5BAA","size":42,"opacity":1},
 "encoding":{"x":{"datum":275,"type":"quantitative","scale":{"domain":[-120,656]},"axis":null},
 "y":{"datum":-4,"type":"quantitative","scale":{"domain":[0,33]},"axis":null}}},
{"data":{"values":[{}]},"mark":{"type":"point","shape":"triangle-left","filled":true,"color":"#3A5BAA","size":42,"opacity":1},
 "encoding":{"x":{"datum":456,"type":"quantitative","scale":{"domain":[-120,656]},"axis":null},
 "y":{"datum":-4,"type":"quantitative","scale":{"domain":[0,33]},"axis":null}}},
{"data":{"name":"deletionArc"},"mark":{"type":"line","color":"#D9403F","strokeWidth":2.5,"interpolate":"monotone"},
 "encoding":{"x":{"field":"p","type":"quantitative","scale":{"domain":[-120,656]},"axis":null},
 "y":{"field":"d","type":"quantitative","scale":{"domain":[0,33]},"axis":null},"order":{"field":"o","type":"quantitative"}}}
]},
{"width":776,"height":33,"layer":[
{"data":{"values":[{}]},"mark":{"type":"rect","fill":"#F3F3F3"},
 "encoding":{"x":{"datum":0,"type":"quantitative","scale":{"domain":[-120,656]},"axis":null},"x2":{"datum":648},
 "y":{"datum":0,"type":"quantitative","scale":{"domain":[0,33]},"axis":null},"y2":{"datum":33}}},
{"data":{"name":"coverage"},"transform":[{"filter":"datum.t === 4"}],
 "mark":{"type":"area","fill":{"gradient":"linear","x1":0,"y1":1,"x2":0,"y2":0,"stops":[{"offset":0,"color":"#C2AF72"},{"offset":0.25,"color":"#A27A55"},{"offset":0.55,"color":"#8E4A3E"},{"offset":1,"color":"#45101A"}]}},
 "encoding":{"x":{"field":"p","type":"quantitative","scale":{"domain":[-120,656]},"axis":null},
 "y":{"field":"d","type":"quantitative","scale":{"domain":[0,33]},"axis":null}}},
{"data":{"values":[{"sample":"Kofa"}]},"mark":{"type":"text","align":"right","fontSize":14,"fontWeight":"bold","color":"black"},
 "encoding":{"x":{"datum":-13,"type":"quantitative","scale":{"domain":[-120,656]},"axis":null},
 "y":{"datum":15,"type":"quantitative","scale":{"domain":[0,33]},"axis":null},"text":{"field":"sample"}}}
]},
{"width":776,"height":33,"layer":[
{"data":{"values":[{}]},"mark":{"type":"rect","fill":"#F3F3F3"},
 "encoding":{"x":{"datum":0,"type":"quantitative","scale":{"domain":[-120,656]},
 "axis":{"values":[1,646],"labelExpr":"datum.value < 300 ? '827.5' : '830.6'","domain":false,"grid":false,"ticks":true,"tickSize":9,"tickWidth":3,"tickColor":"black","labelAngle":270,"labelFontSize":14,"labelFontWeight":"bold","labelColor":"black","labelPadding":2,"labelFlush":false,"labelOverlap":false,"title":"Chr. 3B Position Mb","titleFontSize":14,"titleFontWeight":"bold","titleColor":"black","titleX":447,"titleY":32,"titleAlign":"center","titleBaseline":"middle","titleAngle":0}},
 "x2":{"datum":648},
 "y":{"datum":0,"type":"quantitative","scale":{"domain":[0,33]},"axis":null},"y2":{"datum":33}}},
{"data":{"name":"coverage"},"transform":[{"filter":"datum.t === 5"}],
 "mark":{"type":"area","fill":{"gradient":"linear","x1":0,"y1":1,"x2":0,"y2":0,"stops":[{"offset":0,"color":"#C2AF72"},{"offset":0.25,"color":"#A27A55"},{"offset":0.55,"color":"#8E4A3E"},{"offset":1,"color":"#45101A"}]}},
 "encoding":{"x":{"field":"p","type":"quantitative","scale":{"domain":[-120,656]},
 "axis":{"values":[1,646],"labelExpr":"datum.value < 300 ? '827.5' : '830.6'","domain":false,"grid":false,"ticks":true,"tickSize":9,"tickWidth":3,"tickColor":"black","labelAngle":270,"labelFontSize":14,"labelFontWeight":"bold","labelColor":"black","labelPadding":2,"labelFlush":false,"labelOverlap":false,"title":"Chr. 3B Position Mb","titleFontSize":14,"titleFontWeight":"bold","titleColor":"black","titleX":447,"titleY":32,"titleAlign":"center","titleBaseline":"middle","titleAngle":0}},
 "y":{"field":"d","type":"quantitative","scale":{"domain":[0,33]},"axis":null}}},
{"data":{"values":[{"sample":"Svevo"}]},"mark":{"type":"text","align":"right","fontSize":14,"fontWeight":"bold","color":"black"},
 "encoding":{"x":{"datum":-15,"type":"quantitative","scale":{"domain":[-120,656]},
 "axis":{"values":[1,646],"labelExpr":"datum.value < 300 ? '827.5' : '830.6'","domain":false,"grid":false,"ticks":true,"tickSize":9,"tickWidth":3,"tickColor":"black","labelAngle":270,"labelFontSize":14,"labelFontWeight":"bold","labelColor":"black","labelPadding":2,"labelFlush":false,"labelOverlap":false,"title":"Chr. 3B Position Mb","titleFontSize":14,"titleFontWeight":"bold","titleColor":"black","titleX":447,"titleY":32,"titleAlign":"center","titleBaseline":"middle","titleAngle":0}},
 "y":{"datum":15,"type":"quantitative","scale":{"domain":[0,33]},"axis":null},"text":{"field":"sample"}}}
]},
{"width":776,"height":53,"data":{"values":[{"gap":""}]},"mark":{"type":"text"},"encoding":{"text":{"field":"gap"}}},
{
"bounds":"flush",
"spacing":80,
"hconcat":[
{"width":440,"height":203,"layer":[
{"data":{"name":"backbones"},"mark":{"type":"rule","color":"#E00000","strokeWidth":3.5},
 "encoding":{"x":{"field":"start","type":"quantitative","scale":{"domain":[0,440]},"axis":null},"x2":{"field":"end"},
 "y":{"field":"lane","type":"quantitative","scale":{"domain":[697,900],"reverse":true},"axis":null}}},
{"data":{"name":"genes"},"mark":{"type":"rect"},
 "encoding":{"x":{"field":"x0","type":"quantitative","scale":{"domain":[0,440]},"axis":null},"x2":{"field":"x1"},
 "y":{"field":"y0","type":"quantitative","scale":{"domain":[697,900],"reverse":true},"axis":null},"y2":{"field":"y1"},
 "color":{"field":"genome","type":"nominal","scale":{"domain":["Kofa","CDC Fortitude"],"range":["#E00000","#5274CC"]},"legend":null}}},
{"data":{"name":"geneLabels"},"mark":{"type":"text","fontSize":15,"fontWeight":"bold","fontStyle":"italic","color":"white"},
 "encoding":{"x":{"field":"x","type":"quantitative","scale":{"domain":[0,440]},"axis":null},
 "y":{"field":"y","type":"quantitative","scale":{"domain":[697,900],"reverse":true},"axis":null},"text":{"field":"gene"}}},
{"data":{"values":[{}]},"mark":{"type":"rule","color":"black","strokeWidth":1.5},
 "encoding":{"x":{"datum":113,"type":"quantitative","scale":{"domain":[0,440]},"axis":null},
 "y":{"datum":708,"type":"quantitative","scale":{"domain":[697,900],"reverse":true},"axis":null},"y2":{"datum":897}}},
{"data":{"values":[{}]},"mark":{"type":"rule","color":"black","strokeWidth":1.5},
 "encoding":{"x":{"datum":219,"type":"quantitative","scale":{"domain":[0,440]},"axis":null},
 "y":{"datum":708,"type":"quantitative","scale":{"domain":[697,900],"reverse":true},"axis":null},"y2":{"datum":755}}},
{"data":{"values":[{}]},"mark":{"type":"rule","color":"black","strokeWidth":1.5},
 "encoding":{"x":{"datum":219,"type":"quantitative","scale":{"domain":[0,440]},"axis":null},"x2":{"datum":418},
 "y":{"datum":755,"type":"quantitative","scale":{"domain":[697,900],"reverse":true},"axis":null},"y2":{"datum":798}}},
{"data":{"values":[{}]},"mark":{"type":"rule","color":"black","strokeWidth":1.5},
 "encoding":{"x":{"datum":418,"type":"quantitative","scale":{"domain":[0,440]},"axis":null},
 "y":{"datum":798,"type":"quantitative","scale":{"domain":[697,900],"reverse":true},"axis":null},"y2":{"datum":899}}},
{"data":{"values":[{"panel":"C"}]},"mark":{"type":"text","fontSize":18,"color":"black"},
 "encoding":{"x":{"datum":12,"type":"quantitative","scale":{"domain":[0,440]},"axis":null},
 "y":{"datum":692,"type":"quantitative","scale":{"domain":[697,900],"reverse":true},"axis":null},"text":{"field":"panel"}}},
{"data":{"values":[{"panel":"D"}]},"mark":{"type":"text","fontSize":18,"color":"black"},
 "encoding":{"x":{"datum":447,"type":"quantitative","scale":{"domain":[0,440]},"axis":null},
 "y":{"datum":692,"type":"quantitative","scale":{"domain":[697,900],"reverse":true},"axis":null},"text":{"field":"panel"}}},
{"data":{"values":[{"coord":"829,118,858 Mb"}]},"mark":{"type":"text","fontSize":14.5,"color":"#111111"},
 "encoding":{"x":{"datum":110,"type":"quantitative","scale":{"domain":[0,440]},"axis":null},
 "y":{"datum":697,"type":"quantitative","scale":{"domain":[697,900],"reverse":true},"axis":null},"text":{"field":"coord"}}},
{"data":{"values":[{"coord":"829,153,686 Mb"}]},"mark":{"type":"text","fontSize":14.5,"color":"#111111"},
 "encoding":{"x":{"datum":245,"type":"quantitative","scale":{"domain":[0,440]},"axis":null},
 "y":{"datum":697,"type":"quantitative","scale":{"domain":[697,900],"reverse":true},"axis":null},"text":{"field":"coord"}}},
{"data":{"values":[{}]},"mark":{"type":"point","shape":"triangle-right","filled":true,"color":"#3A5BAA","size":42,"opacity":1},
 "encoding":{"x":{"datum":105,"type":"quantitative","scale":{"domain":[0,440]},"axis":null},
 "y":{"datum":710,"type":"quantitative","scale":{"domain":[697,900],"reverse":true},"axis":null}}},
{"data":{"values":[{}]},"mark":{"type":"point","shape":"triangle-left","filled":true,"color":"#3A5BAA","size":42,"opacity":1},
 "encoding":{"x":{"datum":226,"type":"quantitative","scale":{"domain":[0,440]},"axis":null},
 "y":{"datum":710,"type":"quantitative","scale":{"domain":[697,900],"reverse":true},"axis":null}}},
{"data":{"values":[{"genome":"Kofa"}]},"mark":{"type":"text","align":"right","fontSize":14,"fontWeight":"bold","color":"black"},
 "encoding":{"x":{"datum":105,"type":"quantitative","scale":{"domain":[0,440]},"axis":null},
 "y":{"datum":728,"type":"quantitative","scale":{"domain":[697,900],"reverse":true},"axis":null},"text":{"field":"genome"}}},
{"data":{"values":[{"genome":"CDC Fortitude"}]},"mark":{"type":"text","align":"right","fontSize":14,"fontWeight":"bold","color":"black"},
 "encoding":{"x":{"datum":105,"type":"quantitative","scale":{"domain":[0,440]},"axis":null},
 "y":{"datum":855,"type":"quantitative","scale":{"domain":[697,900],"reverse":true},"axis":null},"text":{"field":"genome"}}},
{"data":{"name":"insertions"},"mark":{"type":"rule","color":"black","strokeWidth":1.6},
 "encoding":{"x":{"field":"x","type":"quantitative","scale":{"domain":[0,440]},"axis":null},
 "y":{"datum":912,"type":"quantitative","scale":{"domain":[697,900],"reverse":true},"axis":null},"y2":{"datum":882}}},
{"data":{"name":"insertions"},"mark":{"type":"point","shape":"triangle-up","filled":true,"color":"black","size":60,"opacity":1},
 "encoding":{"x":{"field":"x","type":"quantitative","scale":{"domain":[0,440]},"axis":null},
 "y":{"datum":879,"type":"quantitative","scale":{"domain":[697,900],"reverse":true},"axis":null}}},
{"data":{"values":[{"seq":"AGATGTCTTAGAACGTCGTCTTAGA"}]},"mark":{"type":"text","fontSize":14.5,"fontWeight":"bold","color":"black"},
 "encoding":{"x":{"datum":291,"type":"quantitative","scale":{"domain":[0,440]},"axis":null},
 "y":{"datum":921,"type":"quantitative","scale":{"domain":[697,900],"reverse":true},"axis":null},"text":{"field":"seq"}}},
{"data":{"values":[{"note":"(Insertion)"}]},"mark":{"type":"text","fontSize":13,"color":"black"},
 "encoding":{"x":{"datum":271,"type":"quantitative","scale":{"domain":[0,440]},"axis":null},
 "y":{"datum":941,"type":"quantitative","scale":{"domain":[697,900],"reverse":true},"axis":null},"text":{"field":"note"}}}
]},
{"width":236,"height":203,"layer":[
{"data":{"name":"kasp"},"mark":{"type":"point","filled":true,"size":50,"strokeWidth":0.7,"opacity":1},
 "encoding":{
 "x":{"field":"hex","type":"quantitative","scale":{"domain":[-200,500],"nice":false},
  "axis":{"values":[-200,-100,0,100,200,300,400,500],"labelAngle":270,"labelFontSize":13,"labelFontWeight":"bold","labelColor":"black","labelPadding":2,"labelFlush":false,"labelOverlap":false,"tickSize":4,"tickColor":"black","domainColor":"black","grid":false,"title":"Hex Intensity","titleFontSize":14,"titleFontWeight":"bold","titleColor":"black","titlePadding":1}},
 "y":{"field":"fam","type":"quantitative","scale":{"domain":[0,500],"nice":false},
  "axis":{"values":[0,100,200,300,400,500],"labelFontSize":14,"labelFontWeight":"bold","labelColor":"black","labelPadding":4,"labelFlush":false,"labelOverlap":false,"tickSize":4,"tickColor":"black","domainColor":"black","grid":false,"title":"Fam Intensity","titleFontSize":14,"titleFontWeight":"bold","titleColor":"black","titlePadding":6}},
 "color":{"field":"group","type":"nominal","scale":{"domain":["Hollow-stem","Solid-stem"],"range":["#E00000","#4472C4"]},"legend":null},
 "stroke":{"field":"group","type":"nominal","scale":{"domain":["Hollow-stem","Solid-stem"],"range":["#3A0000","#2F5597"]},"legend":null}}},
{"data":{"values":[{"label":"Hollow-stem","hex":171,"fam":451},{"label":"Solid-stem","hex":349,"fam":150}]},"mark":{"type":"text","fontSize":14.5,"fontWeight":"bold","color":"black"},
 "encoding":{
 "x":{"field":"hex","type":"quantitative","scale":{"domain":[-200,500],"nice":false},
  "axis":{"values":[-200,-100,0,100,200,300,400,500],"labelAngle":270,"labelFontSize":13,"labelFontWeight":"bold","labelColor":"black","labelPadding":2,"labelFlush":false,"labelOverlap":false,"tickSize":4,"tickColor":"black","domainColor":"black","grid":false,"title":"Hex Intensity","titleFontSize":14,"titleFontWeight":"bold","titleColor":"black","titlePadding":1}},
 "y":{"field":"fam","type":"quantitative","scale":{"domain":[0,500],"nice":false},
  "axis":{"values":[0,100,200,300,400,500],"labelFontSize":14,"labelFontWeight":"bold","labelColor":"black","labelPadding":4,"labelFlush":false,"labelOverlap":false,"tickSize":4,"tickColor":"black","domainColor":"black","grid":false,"title":"Fam Intensity","titleFontSize":14,"titleFontWeight":"bold","titleColor":"black","titlePadding":6}},
 "text":{"field":"label"}}}
]}
]
}
]
}
